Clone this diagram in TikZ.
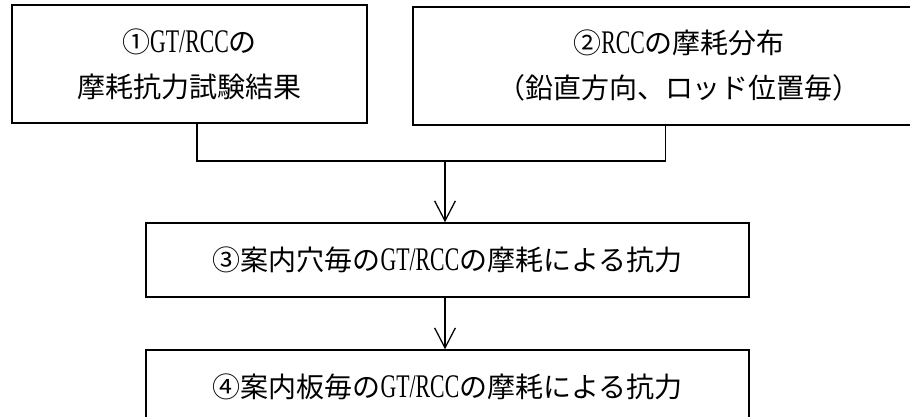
\documentclass[tikz,border=0pt]{standalone}
\usepackage{fontspec}
\setmainfont[FakeStretch=0.66, Scale=1.18]{Liberation Serif}
\newfontfamily\jpfont{Noto Sans CJK JP}
\usetikzlibrary{arrows.meta, positioning}

\begin{document}
\begin{tikzpicture}[
    box/.style ={draw, line width=1.1pt, align=center, inner sep=0pt,
                 font=\fontsize{19.9}{32}\selectfont},
    conn/.style={line width=0.9pt},
    arr/.style ={conn, -{Straight Barb[length=0.5cm, width=0.52cm]}}
]
\useasboundingbox (0,0) rectangle (22.75,-10.425);
\clip (0,0) rectangle (22.75,-10.425);

%% ── Inputs (top row) ─────────────────────────────────────────────
\node[box, minimum width=8.875cm, minimum height=2.95cm] (test) at (4.7375, -1.6)
    {{\jpfont ①}GT/RCC{\jpfont の}\\{\jpfont 摩耗抗力試験結果}};
\node[box, minimum width=13.3cm, minimum height=2.95cm] (dist) at (16.975, -1.65)
    {{\jpfont ②}RCC{\jpfont の摩耗分布}\\{\jpfont （鉛直方向、ロッド位置毎）}};

%% ── Results ──────────────────────────────────────────────────────
\node[box, minimum width=15.075cm, minimum height=1.85cm] (hole)  at (11.1875, -6.5)
    {{\jpfont ③案内穴毎の}GT/RCC{\jpfont の摩耗による抗力}};
\node[box, minimum width=15.075cm, minimum height=1.85cm] (plate) at (11.1875, -9.675)
    {{\jpfont ④案内板毎の}GT/RCC{\jpfont の摩耗による抗力}};

%% ── Merge the two inputs ─────────────────────────────────────────
\coordinate (join) at (11.125, -4.025);
\draw[conn] ([xshift=0.19cm]test.south) |- (join) -| ([xshift=-0.33cm]dist.south);

%% ── Down the chain ───────────────────────────────────────────────
\draw[arr] (join) -- (join |- hole.north);
\draw[arr] (join |- hole.south) -- (join |- plate.north);

\end{tikzpicture}
\end{document}
